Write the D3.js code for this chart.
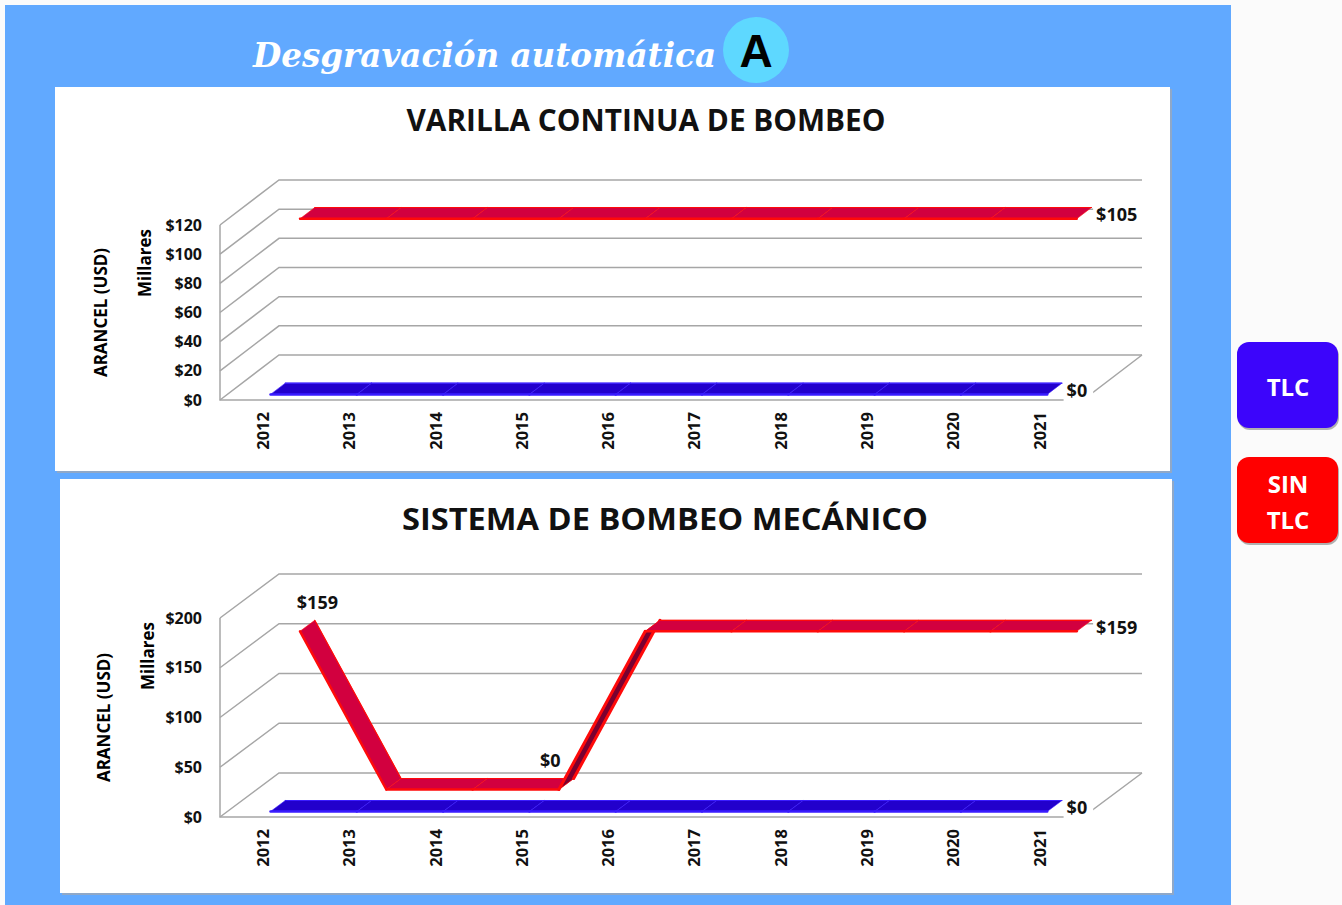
<!DOCTYPE html>
<html>
<head>
<meta charset="utf-8">
<script src="https://cdn.jsdelivr.net/npm/d3@7"></script>
<style>
  body { margin: 0; background: #fbfbfb; }
  text { font-family: 'Open Sans', sans-serif; }
</style>
</head>
<body>
<div id="container"></div>
<script>
// data
var years = ['2012', '2013', '2014', '2015', '2016', '2017', '2018', '2019', '2020', '2021']
var seriesNames = ['TLC', 'SIN TLC']

var varillaTlc = [0, 0, 0, 0, 0, 0, 0, 0, 0, 0]
var varillaSinTlc = [105, 105, 105, 105, 105, 105, 105, 105, 105, 105]
var varillaTicks = [0, 20, 40, 60, 80, 100, 120]

var bombeoTlc = [0, 0, 0, 0, 0, 0, 0, 0, 0, 0]
var bombeoSinTlc = [159, 0, 0, 0, 159, 159, 159, 159, 159, 159]
var bombeoTicks = [0, 50, 100, 150, 200]

// which points carry a data label: [series, year index, placement]
var varillaLabels = [[1, 9, 'right'], [0, 9, 'right']]
var bombeoLabels = [[1, 0, 'above'], [1, 3, 'above'], [1, 9, 'right'], [0, 9, 'right']]

var seriesFill = { 'TLC': '#2200cc', 'SIN TLC': '#d2003f' }
var seriesEdge = { 'TLC': '#3a1cff', 'SIN TLC': '#ff0a0a' }
var seriesDark = { 'TLC': '#14007a', 'SIN TLC': '#7a0030' }

var svgContainer = d3.select('#container').append('svg')
    .attr('width', 1342)
    .attr('height', 905)

// blue frame
svgContainer.append('rect')
    .attr('x', 5).attr('y', 5)
    .attr('width', 1226).attr('height', 905)
    .attr('fill', '#61a9ff')

svgContainer.append('text')
    .attr('x', 253)
    .attr('y', 67)
    .attr('fill', '#ffffff')
    .attr('font-style', 'italic')
    .attr('font-weight', 700)
    .attr('font-size', 34)
    .attr('textLength', 463)
    .attr('lengthAdjust', 'spacingAndGlyphs')
    .style('font-family', 'DejaVu Serif')
    .text('Desgravación automática')

svgContainer.append('circle')
    .attr('cx', 756).attr('cy', 50).attr('r', 33)
    .attr('fill', '#5ed8ff')

svgContainer.append('text')
    .attr('x', 756).attr('y', 67)
    .attr('text-anchor', 'middle')
    .attr('font-size', 46)
    .attr('font-weight', 700)
    .style('font-family', 'Liberation Sans')
    .text('A')

function drawLegendBox(x, y, name, lines){
    svgContainer.append('rect')
        .attr('x', x + 1).attr('y', y + 2)
        .attr('width', 101).attr('height', 86)
        .attr('rx', 12)
        .attr('fill', '#b0b0b0')
    svgContainer.append('rect')
        .attr('x', x).attr('y', y)
        .attr('width', 101).attr('height', 86)
        .attr('rx', 12)
        .attr('fill', name === 'TLC' ? '#3c05fb' : '#ff0000')
    for(var i = 0; i < lines.length; i++){
        svgContainer.append('text')
            .attr('x', x + 51)
            .attr('y', y + 46 + (i - (lines.length - 1) / 2) * 36)
            .attr('dy', '0.35em')
            .attr('text-anchor', 'middle')
            .attr('fill', '#ffffff')
            .attr('font-size', 24)
            .attr('font-weight', 700)
            .text(lines[i])
    }
}

drawLegendBox(1237, 342, seriesNames[0], ['TLC'])
drawLegendBox(1237, 457, seriesNames[1], ['SIN', 'TLC'])

function drawChart(c){
    var g = svgContainer.append('g')

    g.append('rect')
        .attr('x', c.panel[0] + 2).attr('y', c.panel[1] + 2)
        .attr('width', c.panel[2]).attr('height', c.panel[3])
        .attr('fill', '#8fa8c8')
    g.append('rect')
        .attr('x', c.panel[0]).attr('y', c.panel[1])
        .attr('width', c.panel[2]).attr('height', c.panel[3])
        .attr('fill', '#ffffff')

    g.append('text')
        .attr('x', c.titleX)
        .attr('y', c.titleY)
        .attr('text-anchor', 'middle')
        .attr('font-size', 30)
        .attr('font-weight', 700)
        .attr('fill', '#111111')
        .attr('textLength', c.titleWidth)
        .attr('lengthAdjust', 'spacingAndGlyphs')
        .text(c.title)

    var x = d3.scaleBand().domain(years).range([c.x0, c.x1])
    var y = d3.scaleLinear().domain([0, c.yMax]).range([c.yBottom, c.yTop])
    var dx = c.depthX
    var dy = c.depthY

    function px(i, d){ return x(years[i]) + x.bandwidth() / 2 + dx * d }
    function py(v, d){ return y(v) + dy * d }

    // walls and grid
    var x1 = c.x0 + x.bandwidth() * years.length
    c.ticks.forEach(function(t){
        var yt = y(t)
        g.append('path')
            .attr('d', 'M' + c.x0 + ',' + yt + 'L' + (c.x0 + dx) + ',' + (yt + dy) + 'L' + (x1 + dx) + ',' + (yt + dy))
            .attr('fill', 'none')
            .attr('stroke', '#a6a6a6')
            .attr('stroke-width', 1.5)
    })
    g.append('path')
        .attr('d', 'M' + c.x0 + ',' + y(c.yMax) + 'L' + c.x0 + ',' + c.yBottom + 'L' + x1 + ',' + c.yBottom +
            'L' + (x1 + dx) + ',' + (c.yBottom + dy))
        .attr('fill', 'none')
        .attr('stroke', '#a6a6a6')
        .attr('stroke-width', 1.5)

    // axes
    var yAxis = g.append('g')
        .call(d3.axisLeft(y).tickValues(c.ticks).tickSize(0).tickPadding(18)
            .tickFormat(function(d){ return '$' + d }))
        .attr('transform', 'translate(' + c.x0 + ',0)')
    yAxis.select('.domain').remove()
    yAxis.selectAll('text')
        .attr('font-size', 16)
        .attr('font-weight', 700)
        .attr('fill', '#111111')
        .style('font-family', 'Open Sans')

    var xAxis = g.append('g')
        .attr('transform', 'translate(0,' + c.yBottom + ')')
        .call(d3.axisBottom(x).tickSize(0))
    xAxis.select('.domain').remove()
    xAxis.selectAll('text')
        .attr('transform', 'rotate(-90)')
        .attr('x', -12)
        .attr('y', 0)
        .attr('dy', '0.35em')
        .attr('text-anchor', 'end')
        .attr('font-size', 16.5)
        .attr('font-weight', 700)
        .attr('fill', '#111111')
        .style('font-family', 'Open Sans')

    var midY = (c.yBottom + y(c.yMax)) / 2
    g.append('text')
        .attr('transform', 'translate(' + c.axisTitleX + ',' + midY + ') rotate(-90)')
        .attr('dy', '0.35em')
        .attr('text-anchor', 'middle')
        .attr('font-size', 17)
        .attr('font-weight', 700)
        .text('ARANCEL (USD)')
    g.append('text')
        .attr('transform', 'translate(' + (c.axisTitleX + 44) + ',' + (y(c.yMax) + 38) + ') rotate(-90)')
        .attr('dy', '0.35em')
        .attr('text-anchor', 'middle')
        .attr('font-size', 17)
        .attr('font-weight', 700)
        .text('Millares')

    // ribbons, back series first
    for(var s = c.series.length - 1; s >= 0; s--){
        var values = c.series[s]
        var name = seriesNames[s]
        var d0 = 0.125 + 0.5 * s
        var d1 = d0 + 0.25
        for(var i = 0; i < values.length - 1; i++){
            var pts = [
                [px(i, d0), py(values[i], d0)],
                [px(i + 1, d0), py(values[i + 1], d0)],
                [px(i + 1, d1), py(values[i + 1], d1)],
                [px(i, d1), py(values[i], d1)]
            ]
            var rising = values[i + 1] > values[i]
            g.append('polygon')
                .attr('points', pts.map(function(p){ return p.join(',') }).join(' '))
                .attr('fill', rising ? seriesDark[name] : seriesFill[name])
                .attr('stroke', seriesEdge[name])
                .attr('stroke-width', 0.6)
                .attr('stroke-linejoin', 'round')
            g.append('line')
                .attr('x1', pts[0][0]).attr('y1', pts[0][1])
                .attr('x2', pts[1][0]).attr('y2', pts[1][1])
                .attr('stroke', seriesEdge[name])
                .attr('stroke-width', rising ? 3 : 2.5)
                .attr('stroke-linecap', 'round')
            g.append('line')
                .attr('x1', pts[3][0]).attr('y1', pts[3][1])
                .attr('x2', pts[2][0]).attr('y2', pts[2][1])
                .attr('stroke', seriesEdge[name])
                .attr('stroke-width', rising ? 3 : 1.2)
                .attr('stroke-linecap', 'round')
        }
    }

    // data labels
    c.labels.forEach(function(l){
        var s = l[0], i = l[1]
        var values = c.series[s]
        var dm = 0.25 + 0.5 * s
        var lx = px(i, dm)
        var ly = py(values[i], dm)
        var t = g.append('text')
            .attr('font-size', 18)
            .attr('font-weight', 700)
            .attr('fill', '#111111')
            .text('$' + values[i])
        if(l[2] === 'right'){
            t.attr('x', lx + 12).attr('y', ly + 8)
        } else {
            var next = i < values.length - 1 ? values[i + 1] : values[i]
            t.attr('text-anchor', 'middle')
                .attr('x', next > values[i] ? lx - 16 : lx + 10)
                .attr('y', ly - 17)
        }
        var b = t.node().getBBox()
        g.insert('rect', function(){ return t.node() })
            .attr('x', b.x - 3).attr('y', b.y)
            .attr('width', b.width + 9).attr('height', b.height)
            .attr('fill', '#ffffff')
    })
}

drawChart({
    title: 'VARILLA CONTINUA DE BOMBEO', titleX: 646, titleY: 131, titleWidth: 479,
    panel: [55, 87, 1115, 384],
    x0: 220, x1: 1083, yBottom: 400, yTop: 225, yMax: 120,
    depthX: 59, depthY: -45, axisTitleX: 101,
    ticks: varillaTicks,
    series: [varillaTlc, varillaSinTlc],
    labels: varillaLabels
})

drawChart({
    title: 'SISTEMA DE BOMBEO MECÁNICO', titleX: 665, titleY: 530, titleWidth: 526,
    panel: [60, 479, 1112, 414],
    x0: 220, x1: 1083, yBottom: 817, yTop: 618, yMax: 200,
    depthX: 59, depthY: -44, axisTitleX: 104,
    ticks: bombeoTicks,
    series: [bombeoTlc, bombeoSinTlc],
    labels: bombeoLabels
})
</script>
</body>
</html>
